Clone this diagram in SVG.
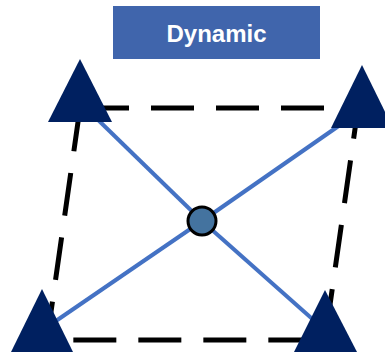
<svg xmlns="http://www.w3.org/2000/svg" width="385" height="355" viewBox="0 0 385 355">
<style>
.tri{fill:#002060;}
.conn{stroke:#4472C4;stroke-width:4;fill:none;}
.frame{fill:none;stroke:#000;stroke-width:5;stroke-dasharray:43 22;stroke-dashoffset:59;}
.title{font-family:"Liberation Sans",Arial,sans-serif;font-weight:bold;font-size:24px;fill:#fff;text-anchor:middle;}
</style>
<rect width="385" height="355" fill="#fff"/>
<g id="title">
<rect x="113" y="6" width="207" height="53" fill="#4065AC"/>
<text class="title" x="216.5" y="42">Dynamic</text>
</g>
<g id="frame">
<path class="frame" d="M80,108 L358,108 L325,340 L47,340 Z"/>
</g>
<g id="connectors">
<line class="conn" x1="202" y1="221" x2="92" y2="114"/>
<line class="conn" x1="202" y1="221" x2="340" y2="125"/>
<line class="conn" x1="202" y1="221" x2="318" y2="324"/>
<line class="conn" x1="202" y1="221" x2="50" y2="325"/>
</g>
<g id="center">
<circle cx="202" cy="221" r="14" fill="#44739F" stroke="#000" stroke-width="3"/>
</g>
<g id="tri-tl"><polygon class="tri" points="80,59 48,122 112,122"/></g>
<g id="tri-tr"><polygon class="tri" points="362,65 331,128 393,128"/></g>
<g id="tri-bl"><polygon class="tri" points="42,289 11,352 73,352"/></g>
<g id="tri-br"><polygon class="tri" points="325,290 294,352 357,352"/></g>
</svg>
